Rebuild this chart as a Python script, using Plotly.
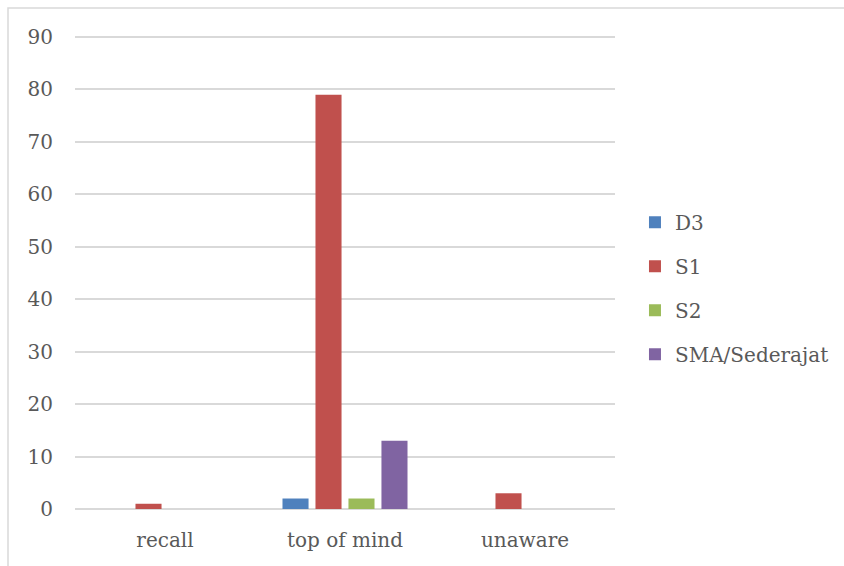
import plotly.graph_objects as go

categories = ["recall", "top of mind", "unaware"]
series_names = ["D3", "S1", "S2", "SMA/Sederajat"]
d3_values = [0, 2, 0]
s1_values = [1, 79, 3]
s2_values = [0, 2, 0]
sma_values = [0, 13, 0]
colors = ["#4F81BD", "#C0504D", "#9BBB59", "#8064A2"]
y_ticks = [0, 10, 20, 30, 40, 50, 60, 70, 80, 90]

fig = go.Figure()
for name, vals, col in zip(series_names, [d3_values, s1_values, s2_values, sma_values], colors):
    fig.add_trace(go.Bar(name=name, x=categories, y=vals, marker_color=col,
                         marker_line_width=0, legendgroup=name))

font_family = "DejaVu Serif"
plot_h = 566 - 32 - 57
fig.update_layout(
    width=844, height=566,
    margin=dict(l=75, r=229, t=32, b=57, autoexpand=False),
    paper_bgcolor="white", plot_bgcolor="white",
    barmode="group", bargap=0.267, bargroupgap=0.21,
    font=dict(family=font_family, size=20, color="#595959"),
    showlegend=True,
    legend=dict(x=1.037, y=0.463, xanchor="left", yanchor="middle",
                font=dict(family=font_family, size=20, color="#595959"),
                tracegroupgap=15, itemwidth=30),
    xaxis=dict(showgrid=False, showline=False, ticks="", ticklabelstandoff=17,
               tickfont=dict(family=font_family, size=20, color="#595959")),
    yaxis=dict(range=[0, 90.96], tickvals=y_ticks, showgrid=True, gridcolor="#D9D9D9",
               gridwidth=1.5, zeroline=True, zerolinecolor="#D9D9D9", zerolinewidth=1.5,
               showline=False, ticks="", ticklabelstandoff=21,
               tickfont=dict(family=font_family, size=20, color="#595959")),
)
fig.add_shape(type="rect", xref="paper", yref="paper",
              x0=(8 - 75) / 540, x1=(900 - 75) / 540,
              y0=(509 - 600) / plot_h, y1=(509 - 8) / plot_h,
              line=dict(color="#D9D9D9", width=1.5), fillcolor="rgba(0,0,0,0)", layer="below")
fig.write_html("out.html")
